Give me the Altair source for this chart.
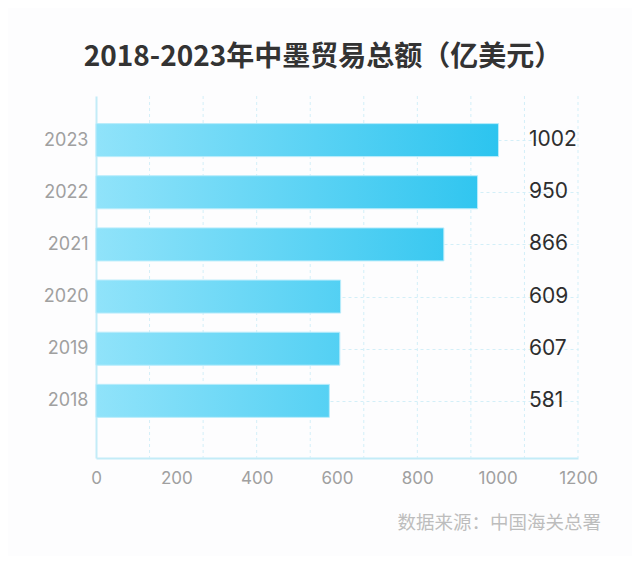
import altair as alt
import pandas as pd

years = [2018, 2019, 2020, 2021, 2022, 2023]
values = [581, 607, 609, 866, 950, 1002]
x_ticks = [0, 200, 400, 600, 800, 1000, 1200]
grid_x = [1200 * k / 9 for k in range(1, 10)]

df = pd.DataFrame({"year": years, "value": values})
gdf = pd.DataFrame({"gx": grid_x})

C0 = (0x90, 0xE3, 0xFA)
C1 = (0x2C, 0xC4, 0xEF)
vmax = max(values)

FONT_NUM = "Inter"
FONT_CJK = "Noto Sans CJK SC"

x_scale = alt.Scale(domain=[0, 1200], nice=False, zero=True)
y_scale = alt.Scale(domain=[2017, 2023.75], nice=False, zero=False)

x_axis = alt.Axis(
    values=x_ticks,
    format="d",
    grid=False,
    ticks=False,
    domainColor="#c3ecf7",
    domainWidth=2,
    labelColor="#a0a0a0",
    labelFont=FONT_NUM,
    labelFontSize=17,
    labelPadding=12,
    labelFlush=False,
    title=None,
)
y_axis = alt.Axis(
    values=years,
    format="d",
    grid=True,
    gridColor="#d3eff8",
    gridDash=[3, 3],
    gridWidth=1,
    ticks=False,
    domainColor="#c3ecf7",
    domainWidth=2,
    labelColor="#a0a0a0",
    labelFont=FONT_NUM,
    labelFontSize=18,
    labelPadding=8,
    title=None,
)

base = alt.Chart(df)

grid_v = alt.Chart(gdf).mark_rule(
    color="#d3eff8", strokeDash=[3, 3], strokeWidth=1
).encode(x=alt.X("gx:Q", scale=x_scale, axis=x_axis))

axes = base.mark_point(opacity=0).encode(
    x=alt.X("value:Q", scale=x_scale, axis=x_axis),
    y=alt.Y("year:Q", scale=y_scale, axis=y_axis),
)

bar_layers = []
for yr, v in zip(years, values):
    stretch = vmax / v
    bar_layers.append(
        base.transform_filter(alt.datum.year == yr)
        .mark_bar(
            orient="horizontal",
            size=33,
            stroke="#b9ecfb",
            strokeWidth=1,
            color=alt.Gradient(
                gradient="linear",
                x1=0, y1=0, x2=stretch, y2=0,
                stops=[
                    alt.GradientStop(color="#%02x%02x%02x" % C0, offset=0),
                    alt.GradientStop(color="#%02x%02x%02x" % C1, offset=1),
                ],
            ),
        )
        .encode(
            x=alt.X("value:Q", scale=x_scale, axis=x_axis),
            y=alt.Y("year:Q", scale=y_scale, axis=y_axis),
        )
    )

labels = base.mark_text(
    align="left", baseline="middle", font=FONT_NUM, fontSize=21, color="#2e2e2e", dy=0
).encode(
    x=alt.value(433),
    y=alt.Y("year:Q", scale=y_scale, axis=y_axis),
    text=alt.Text("value:Q", format="d"),
)

source = alt.Chart(pd.DataFrame({"t": ["数据来源：中国海关总署"]})).mark_text(
    align="right", baseline="middle", font=FONT_CJK, fontSize=18.5, color="#bdbdbd"
).encode(x=alt.value(505), y=alt.value(427), text="t:N")

chart = alt.layer(grid_v, axes, *bar_layers, labels, source).properties(
    width=482,
    height=362,
    autosize="none",
    padding={"left": 88, "top": 88, "right": 54, "bottom": 98},
    background="#fdfdfe",
    title=alt.TitleParams(
        text="2018-2023年中墨贸易总额（亿美元）",
        font=FONT_CJK,
        fontSize=28,
        fontWeight="bold",
        color="#333333",
        anchor="middle",
        dx=-14,
        offset=24,
    ),
).configure_view(stroke=None)

chart.save("out.html", embed_options={"renderer": "svg", "actions": False})
